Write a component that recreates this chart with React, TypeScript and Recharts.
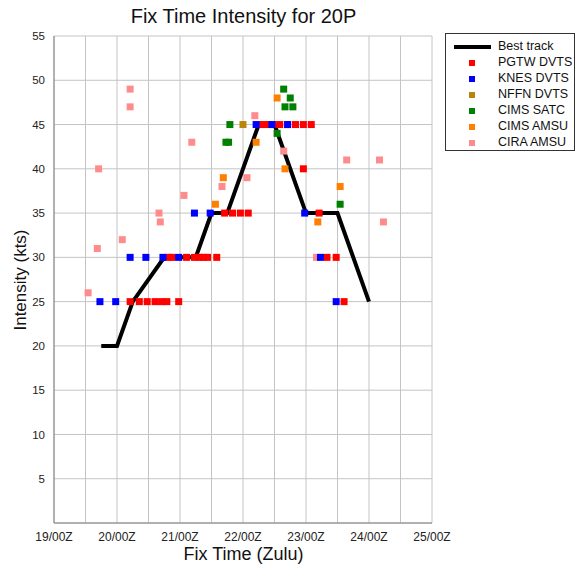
import {
  ComposedChart,
  Line,
  Scatter,
  XAxis,
  YAxis,
  CartesianGrid,
} from "recharts";

// x values are hours since 19/00Z
const xTicks = [0, 12, 24, 36, 48, 60, 72, 84, 96, 108, 120, 132, 144];
const dayLabels = ["19/00Z", "20/00Z", "21/00Z", "22/00Z", "23/00Z", "24/00Z", "25/00Z"];
const yTicks = [0, 5, 10, 15, 20, 25, 30, 35, 40, 45, 50, 55];

const bestHours = [18, 24, 30, 42, 54, 60, 66, 78, 84, 96, 108, 120];
const bestKts = [20, 20, 25, 30, 30, 35, 35, 45, 45, 35, 35, 25];

const pgtwHours = [29, 32.5, 35.5, 38.5, 41, 43, 47.5, 43.5, 45, 50.5, 53.5, 55.5, 57, 58.5, 62, 65, 68, 71, 74, 79, 81, 83.5, 86, 89, 92, 95, 98, 95, 101, 104, 107.5, 110.5];
const pgtwKts = [25, 25, 25, 25, 25, 25, 25, 30, 30, 30, 30, 30, 30, 30, 30, 35, 35, 35, 35, 45, 45, 45, 45, 45, 45, 45, 45, 40, 35, 30, 30, 25];

const knesHours = [17.5, 23.5, 29, 35, 41.5, 47.5, 53.5, 59.5, 77, 83, 89, 95.5, 101.5, 107.5];
const knesKts = [25, 25, 30, 30, 30, 30, 35, 35, 45, 45, 45, 35, 30, 25];

const nffnHours = [72];
const nffnKts = [45];

const satcHours = [67, 65.5, 66.5, 87.5, 90, 88, 91, 85, 109];
const satcKts = [45, 43, 43, 49, 48, 47, 47, 44, 36];

const cimsAmsuHours = [61.5, 64.5, 77, 85, 88, 109, 100.5];
const cimsAmsuKts = [36, 39, 43, 48, 40, 38, 34];

const ciraHours = [13, 16.5, 17, 26, 29, 29, 40, 40.5, 49.5, 52.5, 64, 73.5, 76.5, 87.5, 100, 111.5, 124, 125.5];
const ciraKts = [26, 31, 40, 32, 49, 47, 35, 34, 37, 43, 38, 39, 46, 42, 30, 41, 41, 34];

const zip = (hs: number[], ks: number[]) => hs.map((h, i) => ({ x: h, y: ks[i] }));

const legendItems = [
  { name: "PGTW DVTS", color: "#ff0000" },
  { name: "KNES DVTS", color: "#0000ff" },
  { name: "NFFN DVTS", color: "#b8860b" },
  { name: "CIMS SATC", color: "#008000" },
  { name: "CIMS AMSU", color: "#ff8000" },
  { name: "CIRA AMSU", color: "#ff8c8c" },
];

const FONT = "'Liberation Sans', Arial, Helvetica, sans-serif";

function square(color: string) {
  return (props: any) => {
    const { cx, cy } = props;
    if (cx == null || cy == null) return <g />;
    return <rect x={cx - 3.5} y={cy - 3.5} width={7} height={7} fill={color} />;
  };
}

export default function App() {
  return (
    <div style={{ position: "relative", width: 578, height: 566, fontFamily: FONT, background: "#fff" }}>
      <style>{`body{margin:0}`}</style>
      <div style={{ position: "absolute", left: 0, width: 487, top: 5, textAlign: "center", fontSize: 20, color: "#111" }}>
        Fix Time Intensity for 20P
      </div>
      <div style={{ position: "absolute", left: 0, width: 487, top: 544, textAlign: "center", fontSize: 18, color: "#111" }}>
        Fix Time (Zulu)
      </div>
      <div
        style={{
          position: "absolute",
          left: 21,
          top: 280,
          transform: "translate(-50%, -50%) rotate(-90deg)",
          whiteSpace: "nowrap",
          fontSize: 17,
          color: "#111",
        }}
      >
        Intensity (kts)
      </div>
      <ComposedChart
        width={578}
        height={566}
        margin={{ top: 36, right: 146, bottom: 13, left: 14 }}
        style={{ position: "absolute", left: 0, top: 0 }}
      >
        <CartesianGrid stroke="#c4c4c4" strokeWidth={1} />
        <XAxis
          type="number"
          dataKey="x"
          domain={[0, 144]}
          ticks={xTicks}
          interval={0}
          height={30}
          tickLine={false}
          axisLine={{ stroke: "#808080" }}
          tickMargin={3}
          tick={{ fontSize: 12, fill: "#222", fontFamily: FONT }}
          tickFormatter={(v: number) => (v % 24 === 0 ? dayLabels[v / 24] : "")}
          allowDataOverflow
        />
        <YAxis
          type="number"
          dataKey="y"
          domain={[0, 55]}
          ticks={yTicks}
          interval={0}
          width={40}
          tickLine={false}
          axisLine={{ stroke: "#808080" }}
          tickMargin={3}
          tick={{ fontSize: 11.5, fill: "#222", fontFamily: FONT }}
          tickFormatter={(v: number) => (v === 0 ? "" : String(v))}
        />
        <Line
          data={zip(bestHours, bestKts)}
          dataKey="y"
          type="linear"
          stroke="#000"
          strokeWidth={4}
          dot={false}
          isAnimationActive={false}
        />
        <Scatter data={zip(ciraHours, ciraKts)} shape={square("#ff8c8c")} isAnimationActive={false} />
        <Scatter data={zip(cimsAmsuHours, cimsAmsuKts)} shape={square("#ff8000")} isAnimationActive={false} />
        <Scatter data={zip(satcHours, satcKts)} shape={square("#008000")} isAnimationActive={false} />
        <Scatter data={zip(pgtwHours, pgtwKts)} shape={square("#ff0000")} isAnimationActive={false} />
        <Scatter data={zip(knesHours, knesKts)} shape={square("#0000ff")} isAnimationActive={false} />
        <Scatter data={zip(nffnHours, nffnKts)} shape={square("#b8860b")} isAnimationActive={false} />
      </ComposedChart>
      <div
        style={{
          position: "absolute",
          left: 445,
          top: 33,
          width: 128,
          height: 116,
          border: "1px solid #333",
          fontSize: 12.5,
          color: "#111",
        }}
      >
        <div style={{ position: "absolute", left: 8, top: 11, width: 37, height: 4, background: "#000" }} />
        <div style={{ position: "absolute", left: 52, top: 5, lineHeight: "14px" }}>Best track</div>
        {legendItems.map((it, i) => (
          <div key={it.name}>
            <div
              style={{
                position: "absolute",
                left: 23,
                top: 26 + i * 16,
                width: 6,
                height: 6,
                background: it.color,
              }}
            />
            <div style={{ position: "absolute", left: 52, top: 21 + i * 16, lineHeight: "14px" }}>{it.name}</div>
          </div>
        ))}
      </div>
    </div>
  );
}
